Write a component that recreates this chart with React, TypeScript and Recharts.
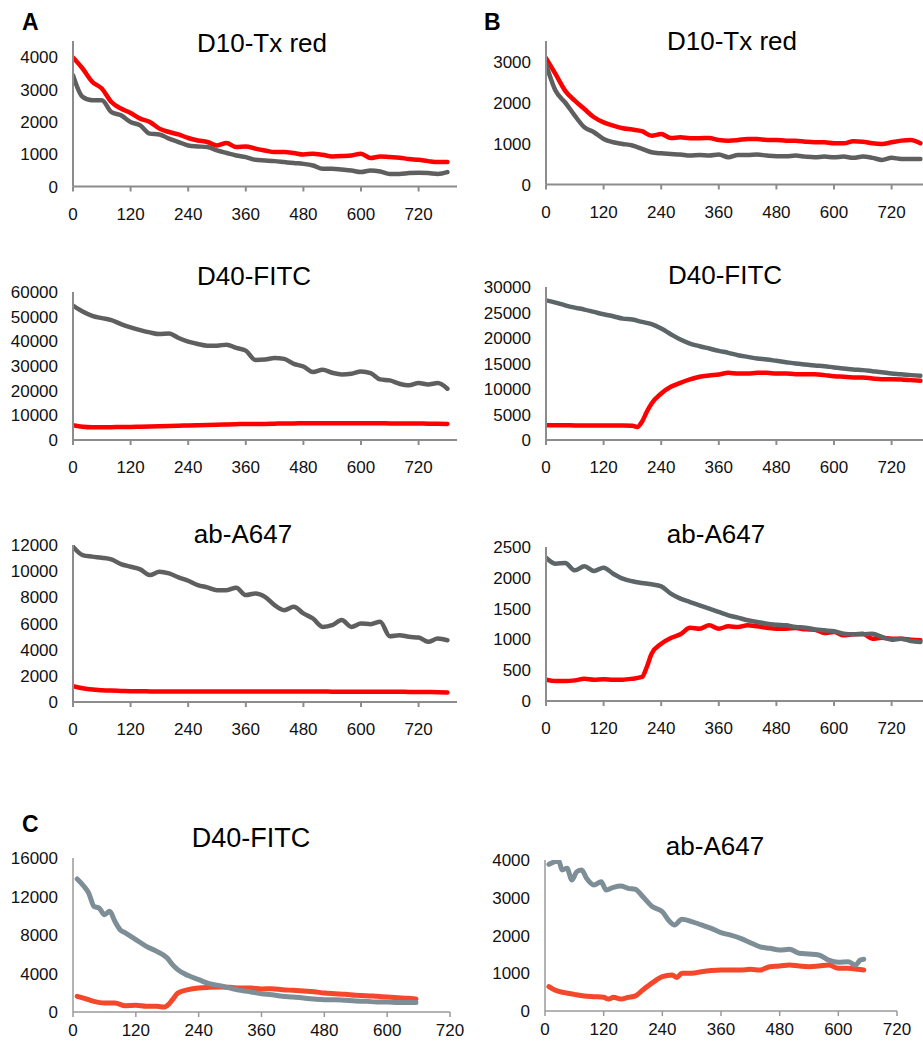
import { LineChart, Line, XAxis, YAxis } from 'recharts';

document.body.style.margin = '0';

/* ── time points (s) ── */
const T_AB = [0, 20, 40, 60, 80, 100, 120, 140, 160, 180, 200, 220, 240, 260, 280, 300, 320, 340, 360, 380,
  400, 420, 440, 460, 480, 500, 520, 540, 560, 580, 600, 620, 640, 660, 680, 700, 720, 740, 760, 780];

/* ── A: D10-Tx red ── */
const A1_RED = [3990, 3650, 3240, 3030, 2615, 2410, 2275, 2100, 1995, 1790, 1685, 1610, 1500, 1425, 1375, 1270, 1345, 1220, 1240, 1170,
  1115, 1065, 1065, 1035, 990, 1015, 980, 930, 940, 960, 1015, 880, 930, 910, 890, 850, 825, 785, 755, 755];
const A1_GRAY = [3440, 2770, 2665, 2665, 2300, 2200, 1995, 1890, 1635, 1610, 1480, 1375, 1270, 1240, 1220, 1115, 1035, 960, 910, 825,
  805, 785, 755, 725, 700, 650, 550, 550, 525, 495, 445, 495, 465, 390, 390, 415, 425, 415, 390, 445];

/* ── A: D40-FITC ── */
const A2_RED = [6000, 5400, 5200, 5200, 5200, 5300, 5300, 5400, 5500, 5600, 5700, 5800, 5900, 6000, 6100, 6200, 6300, 6400, 6500, 6500,
  6500, 6600, 6700, 6700, 6800, 6800, 6800, 6800, 6800, 6800, 6800, 6800, 6800, 6700, 6700, 6700, 6700, 6600, 6600, 6500];
const A2_GRAY = [54500, 52080, 50340, 49400, 48600, 46980, 45640, 44560, 43620, 42950, 43220, 41340, 39870, 38930, 38260, 38260, 38660, 37320, 36240, 32480,
  32620, 33290, 32890, 30870, 29800, 27520, 28460, 27250, 26580, 26850, 27790, 27110, 24560, 24160, 22820, 22150, 23090, 22550, 23090, 20800];

/* ── A: ab-A647 ── */
const A3_RED = [1200, 1050, 950, 900, 870, 850, 830, 820, 810, 800, 800, 800, 800, 800, 800, 800, 800, 800, 800, 800,
  810, 810, 810, 800, 800, 800, 800, 790, 790, 790, 790, 790, 780, 780, 780, 770, 770, 760, 750, 730];
const A3_GRAY = [11870, 11230, 11110, 11030, 10900, 10540, 10340, 10140, 9700, 9960, 9830, 9530, 9270, 8940, 8760, 8550, 8550, 8730, 8170, 8300,
  8040, 7400, 7020, 7280, 6770, 6380, 5740, 5870, 6260, 5740, 6000, 5950, 6130, 5030, 5110, 4980, 4930, 4600, 4850, 4720];

/* ── B: D10-Tx red ── */
const B1_RED = [3080, 2690, 2285, 2045, 1840, 1640, 1515, 1435, 1370, 1340, 1300, 1190, 1230, 1135, 1150, 1130, 1130, 1135, 1085, 1070,
  1085, 1110, 1110, 1085, 1085, 1070, 1070, 1045, 1030, 1030, 1005, 1005, 1055, 1045, 1005, 990, 1030, 1070, 1085, 1005];
const B1_GRAY = [2935, 2285, 2000, 1680, 1395, 1275, 1110, 1030, 990, 950, 870, 785, 760, 745, 730, 705, 720, 705, 730, 665,
  720, 720, 730, 705, 690, 690, 705, 680, 665, 680, 665, 680, 650, 680, 650, 600, 650, 625, 625, 625];

/* ── B: D40-FITC ── */
const B2_RED_T = [0, 20, 40, 60, 80, 100, 120, 140, 160, 180, 190, 200, 210, 220, 240, 260, 280, 300, 320, 340, 360, 380,
  400, 420, 440, 460, 480, 500, 520, 540, 560, 580, 600, 620, 640, 660, 680, 700, 720, 740, 760, 780];
const B2_RED = [2900, 2900, 2900, 2850, 2850, 2850, 2850, 2850, 2850, 2800, 2550, 3590, 5540, 7170, 9130, 10430, 11220, 11870, 12390, 12650, 12850, 13170,
  13040, 13040, 13170, 13170, 13040, 13040, 12910, 12910, 12910, 12720, 12520, 12390, 12260, 12260, 12070, 11930, 11930, 11870, 11740, 11610];
const B2_GRAY = [27390, 26930, 26410, 25960, 25570, 25110, 24650, 24260, 23800, 23610, 23150, 22700, 21850, 20740, 19700, 18910, 18390, 17930, 17480, 17090,
  16630, 16300, 15980, 15780, 15520, 15260, 15000, 14800, 14610, 14480, 14220, 14020, 13830, 13700, 13500, 13300, 13040, 12910, 12720, 12590];

/* ── B: ab-A647 ── */
const B3_RED_T = [0, 20, 40, 60, 80, 100, 120, 140, 160, 180, 200, 210, 220, 240, 260, 280, 300, 320, 340, 360, 380,
  400, 420, 440, 460, 480, 500, 520, 540, 560, 580, 600, 620, 640, 660, 680, 700, 720, 740, 760, 780];
const B3_RED = [346, 325, 325, 335, 362, 346, 352, 346, 346, 362, 390, 552, 768, 931, 1023, 1082, 1190, 1174, 1228, 1174, 1212,
  1201, 1228, 1212, 1190, 1174, 1174, 1185, 1163, 1158, 1104, 1120, 1066, 1082, 1093, 1012, 1028, 1012, 1012, 996, 985];
const B3_GRAY = [2327, 2229, 2240, 2121, 2186, 2110, 2164, 2067, 1986, 1943, 1916, 1894, 1861, 1742, 1661, 1607, 1553, 1499, 1445, 1391,
  1353, 1310, 1282, 1255, 1239, 1228, 1201, 1190, 1163, 1147, 1131, 1093, 1082, 1082, 1090, 1039, 996, 1012, 974, 958];

/* ── C: D40-FITC ── */
const C1_GRAY_T = [8, 20, 30, 40, 50, 60, 70, 80, 90, 100, 120, 140, 160, 180, 190, 200, 220, 240, 260, 280, 300, 320, 340, 360,
  380, 400, 420, 440, 460, 480, 500, 520, 540, 560, 580, 600, 620, 640, 655];
const C1_GRAY = [13820, 13120, 12360, 10980, 10800, 10110, 10460, 9420, 8550, 8210, 7520, 6820, 6300, 5610, 4920, 4400, 3780, 3360, 2940, 2740, 2490, 2250, 2080, 1900,
  1800, 1630, 1560, 1450, 1350, 1280, 1280, 1210, 1140, 1110, 1040, 1040, 1000, 1000, 1000];
const C1_RED_T = [8, 20, 40, 60, 80, 100, 120, 140, 160, 175, 180, 190, 200, 220, 240, 260, 280, 300, 320, 340, 360,
  380, 400, 420, 440, 460, 480, 500, 520, 540, 560, 580, 600, 620, 640, 655];
const C1_RED = [1630, 1450, 1110, 940, 940, 660, 690, 590, 590, 520, 660, 1280, 1970, 2320, 2490, 2560, 2600, 2560, 2490, 2490, 2390,
  2420, 2320, 2250, 2180, 2110, 1970, 1900, 1840, 1730, 1700, 1630, 1560, 1490, 1420, 1350];

/* ── C: ab-A647 ── */
const C2_GRAY_T = [8, 20, 28, 35, 45, 55, 65, 75, 85, 100, 115, 125, 140, 155, 170, 185, 200, 220, 240, 255, 265, 280,
  300, 320, 340, 360, 380, 400, 420, 440, 460, 480, 500, 520, 540, 560, 580, 600, 620, 635, 645, 652];
const C2_GRAY = [3885, 3956, 3980, 3735, 3780, 3470, 3690, 3735, 3515, 3340, 3425, 3205, 3275, 3310, 3250, 3220, 3030, 2760, 2630, 2370, 2280, 2430,
  2370, 2280, 2190, 2075, 2010, 1925, 1810, 1700, 1660, 1615, 1635, 1530, 1510, 1485, 1350, 1290, 1305, 1220, 1350, 1370];
const C2_RED_T = [8, 20, 40, 60, 80, 100, 120, 130, 140, 155, 170, 185, 200, 220, 240, 260, 270, 280,
  300, 320, 340, 360, 380, 400, 420, 440, 460, 480, 500, 520, 540, 560, 580, 600, 620, 640, 652];
const C2_RED = [645, 556, 486, 440, 400, 380, 362, 318, 362, 318, 362, 400, 556, 750, 910, 955, 890, 1000,
  1000, 1040, 1070, 1085, 1085, 1085, 1105, 1085, 1175, 1190, 1220, 1190, 1175, 1190, 1220, 1130, 1130, 1105, 1085];

const X_TICKS = [0, 120, 240, 360, 480, 600, 720];

const pts = (t: number[], v: number[]) => t.map((x, i) => ({ t: x, v: v[i] }));

const FONT = '"Liberation Sans", Arial, sans-serif';
const YW = 70, MT = 10, XH = 40;

type PanelProps = {
  left: number; top: number; w: number; h: number; mr: number;
  xMax: number; yMax: number; yTicks: number[];
  lines: Array<{ data: Array<{ t: number; v: number }>; color: string }>;
  lineWidth: number; axisColor: string; axisWidth: number; xTickGap: number;
};

function Panel({ left, top, w, h, mr, xMax, yMax, yTicks, lines, lineWidth, axisColor, axisWidth, xTickGap }: PanelProps) {
  return (
    <div style={{ position: 'absolute', left: left - YW, top: top - MT }}>
      <LineChart width={YW + w + mr} height={MT + h + XH} margin={{ top: MT, right: mr, bottom: 0, left: 0 }}>
        <XAxis type="number" dataKey="t" domain={[0, xMax]} ticks={X_TICKS} interval={0} allowDataOverflow
          height={XH} tickSize={5} tickMargin={xTickGap}
          axisLine={{ stroke: axisColor, strokeWidth: axisWidth }}
          tickLine={{ stroke: axisColor, strokeWidth: axisWidth }}
          tick={{ fill: '#111', fontSize: 17, fontFamily: FONT }} />
        <YAxis type="number" dataKey="v" domain={[0, yMax]} ticks={yTicks} interval={0} allowDataOverflow
          width={YW} tickLine={false} tickSize={0} tickMargin={15}
          axisLine={{ stroke: axisColor, strokeWidth: axisWidth }}
          tick={{ fill: '#111', fontSize: 17, fontFamily: FONT }} />
        {lines.map((l, i) => (
          <Line key={i} data={l.data} dataKey="v" type="monotone" stroke={l.color} strokeWidth={lineWidth}
            strokeLinejoin="round" strokeLinecap="round" dot={false} activeDot={false} isAnimationActive={false} />
        ))}
      </LineChart>
    </div>
  );
}

const RED = '#ff0000';
const GRAY = '#5f5f5f';
const GRAY_B = '#5c6567';
const C_RED = '#f4472b';
const C_GRAY = '#7e8e97';

const TITLES: Array<[string, number, number, number]> = [
  ['D10-Tx red', 262, 52, 26], ['D40-FITC', 254, 285, 26], ['ab-A647', 243, 543, 26],
  ['D10-Tx red', 732, 50, 26], ['D40-FITC', 725, 284, 26], ['ab-A647', 716, 543, 26],
  ['D40-FITC', 251, 847, 27], ['ab-A647', 715, 855, 26],
];
const LETTERS: Array<[string, number, number]> = [['A', 22, 30], ['B', 484, 30], ['C', 22, 832]];

export default function App() {
  const ab = { xMax: 800, w: 384, mr: 10, lineWidth: 4.5, axisColor: '#8c8c8c', axisWidth: 2, xTickGap: 16 };
  const c = { xMax: 720, mr: 30, lineWidth: 5, axisColor: '#9a9a9a', axisWidth: 1.5, xTickGap: 7 };
  return (
    <div style={{ position: 'relative', width: 923, height: 1041, overflow: 'hidden', background: '#fff', fontFamily: FONT }}>
      <Panel {...ab} left={73} top={40.5} h={145.5} yMax={4500} yTicks={[0, 1000, 2000, 3000, 4000]}
        lines={[{ data: pts(T_AB, A1_RED), color: RED }, { data: pts(T_AB, A1_GRAY), color: GRAY }]} />
      <Panel {...ab} left={73} top={292} h={148} yMax={60000} yTicks={[0, 10000, 20000, 30000, 40000, 50000, 60000]}
        lines={[{ data: pts(T_AB, A2_RED), color: RED }, { data: pts(T_AB, A2_GRAY), color: GRAY }]} />
      <Panel {...ab} left={73} top={545} h={157} yMax={12000} yTicks={[0, 2000, 4000, 6000, 8000, 10000, 12000]}
        lines={[{ data: pts(T_AB, A3_RED), color: RED }, { data: pts(T_AB, A3_GRAY), color: GRAY }]} />
      <Panel {...ab} left={546} top={40.5} h={143.5} yMax={3500} yTicks={[0, 1000, 2000, 3000]}
        lines={[{ data: pts(T_AB, B1_RED), color: RED }, { data: pts(T_AB, B1_GRAY), color: GRAY }]} />
      <Panel {...ab} left={546} top={287} h={153} yMax={30000} yTicks={[0, 5000, 10000, 15000, 20000, 25000, 30000]}
        lines={[{ data: pts(B2_RED_T, B2_RED), color: RED }, { data: pts(T_AB, B2_GRAY), color: GRAY_B }]} />
      <Panel {...ab} left={546} top={546.5} h={154} yMax={2500} yTicks={[0, 500, 1000, 1500, 2000, 2500]}
        lines={[{ data: pts(B3_RED_T, B3_RED), color: RED }, { data: pts(T_AB, B3_GRAY), color: GRAY_B }]} />
      <Panel {...c} left={73} w={377} top={858} h={154} yMax={16000} yTicks={[0, 4000, 8000, 12000, 16000]}
        lines={[{ data: pts(C1_RED_T, C1_RED), color: C_RED }, { data: pts(C1_GRAY_T, C1_GRAY), color: C_GRAY }]} />
      <Panel {...c} left={545} w={352} top={860} h={151} yMax={4000} yTicks={[0, 1000, 2000, 3000, 4000]}
        lines={[{ data: pts(C2_RED_T, C2_RED), color: C_RED }, { data: pts(C2_GRAY_T, C2_GRAY), color: C_GRAY }]} />
      <svg width={923} height={1041} style={{ position: 'absolute', left: 0, top: 0, pointerEvents: 'none' }}>
        {TITLES.map(([s, x, y, fs], i) => (
          <text key={i} x={x} y={y} textAnchor="middle" fontSize={fs} fontFamily={FONT} fill="#000">{s}</text>
        ))}
        {LETTERS.map(([s, x, y]) => (
          <text key={s} x={x} y={y} fontSize={23} fontWeight="bold" fontFamily={FONT} fill="#000">{s}</text>
        ))}
      </svg>
    </div>
  );
}
